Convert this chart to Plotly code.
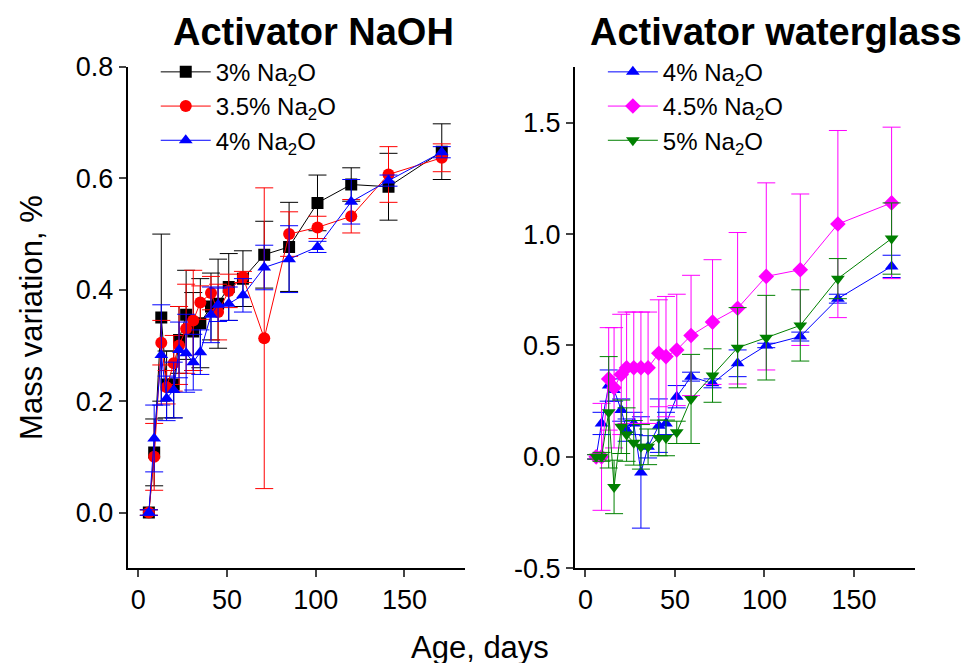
import plotly.graph_objects as go
from plotly.subplots import make_subplots

days = [6, 9, 13, 16, 20, 23, 27, 31, 35, 41, 45, 51, 59, 71, 85, 101, 120, 141, 171]

# NaOH activator
naoh_3 = [0, 0.108, 0.35, 0.23, 0.23, 0.31, 0.355, 0.325, 0.34, 0.37, 0.375, 0.405, 0.42, 0.463, 0.477, 0.556, 0.589, 0.585, 0.648]
naoh_3_err = [0.005, 0.06, 0.15, 0.06, 0.06, 0.06, 0.08, 0.07, 0.08, 0.06, 0.08, 0.06, 0.05, 0.06, 0.08, 0.05, 0.03, 0.06, 0.05]
naoh_35 = [0, 0.10, 0.305, 0.225, 0.268, 0.30, 0.33, 0.345, 0.377, 0.394, 0.36, 0.398, 0.423, 0.313, 0.50, 0.512, 0.532, 0.607, 0.637]
naoh_35_err = [0.005, 0.06, 0.04, 0.03, 0.05, 0.07, 0.08, 0.09, 0.03, 0.03, 0.05, 0.03, 0.01, 0.27, 0.04, 0.02, 0.03, 0.05, 0.025]
naoh_4 = [0, 0.133, 0.283, 0.205, 0.22, 0.292, 0.286, 0.27, 0.288, 0.355, 0.373, 0.375, 0.39, 0.44, 0.455, 0.477, 0.558, 0.596, 0.647]
naoh_4_err = [0.005, 0.06, 0.09, 0.04, 0.05, 0.05, 0.07, 0.05, 0.04, 0.05, 0.03, 0.03, 0.03, 0.04, 0.06, 0.01, 0.04, 0.01, 0.01]

# waterglass activator
wg_4 = [0, 0.15, 0.32, 0.30, 0.21, 0.12, 0.15, -0.07, 0.045, 0.14, 0.15, 0.27, 0.36, 0.33, 0.42, 0.50, 0.54, 0.71, 0.855]
wg_4_err = [0.01, 0.05, 0.07, 0.05, 0.05, 0.05, 0.05, 0.25, 0.05, 0.12, 0.05, 0.05, 0.02, 0.02, 0.06, 0.01, 0.02, 0.02, 0.05]
wg_45 = [0, 0.0, 0.35, 0.31, 0.37, 0.40, 0.40, 0.40, 0.40, 0.465, 0.45, 0.48, 0.545, 0.605, 0.667, 0.81, 0.84, 1.045, 1.14]
wg_45_err = [0.01, 0.24, 0.23, 0.27, 0.27, 0.25, 0.25, 0.25, 0.25, 0.24, 0.27, 0.25, 0.27, 0.28, 0.34, 0.42, 0.34, 0.42, 0.34]
wg_5 = [0, 0, 0.20, -0.135, 0.135, 0.10, 0.063, 0.045, 0.045, 0.085, 0.085, 0.11, 0.26, 0.365, 0.49, 0.535, 0.59, 0.80, 0.98]
wg_5_err = [0.01, 0.02, 0.25, 0.12, 0.12, 0.12, 0.1, 0.1, 0.08, 0.08, 0.08, 0.05, 0.2, 0.12, 0.18, 0.19, 0.16, 0.09, 0.16]

left_ticks = [0, 0.2, 0.4, 0.6, 0.8]
right_ticks = [-0.5, 0, 0.5, 1.0, 1.5]

fig = make_subplots(rows=1, cols=2)

def add(x, y, err, name, color, symbol, col, legend):
    fig.add_trace(go.Scatter(
        x=x, y=y, name=name, mode="lines+markers",
        line=dict(color=color, width=1),
        marker=dict(color=color, symbol=symbol, size=12),
        error_y=dict(type="data", array=err, color=color, thickness=1, width=9),
        legend=legend), row=1, col=col)

add(days, naoh_3, naoh_3_err, "3% Na<sub>2</sub>O", "black", "square", 1, "legend")
add(days, naoh_35, naoh_35_err, "3.5% Na<sub>2</sub>O", "red", "circle", 1, "legend")
add(days, naoh_4, naoh_4_err, "4% Na<sub>2</sub>O", "blue", "triangle-up", 1, "legend")
add(days, wg_4, wg_4_err, "4% Na<sub>2</sub>O", "blue", "triangle-up", 2, "legend2")
add(days, wg_45, wg_45_err, "4.5% Na<sub>2</sub>O", "magenta", "diamond", 2, "legend2")
add(days, wg_5, wg_5_err, "5% Na<sub>2</sub>O", "green", "triangle-down", 2, "legend2")

axis = dict(showline=True, linecolor="black", linewidth=1.5, ticks="outside",
            ticklen=7, tickwidth=1.5, showgrid=False, zeroline=False, automargin=False,
            tickfont=dict(size=27, color="black"))
fig.update_xaxes(axis, range=[-6, 184], dtick=50)
fig.update_xaxes(domain=[0.123, 0.470], row=1, col=1)
fig.update_xaxes(domain=[0.583, 0.933], row=1, col=2)
fig.update_yaxes(axis, domain=[0.155, 0.911])
fig.update_yaxes(range=[-0.1, 0.8], tickvals=left_ticks, ticktext=[f"{v:.1f}" for v in left_ticks],
                 row=1, col=1,
                 title=dict(text="Mass variation, %", font=dict(size=31, color="black"), standoff=24))
fig.update_yaxes(range=[-0.5, 1.75], tickvals=right_ticks, ticktext=[f"{v:.1f}" for v in right_ticks],
                 row=1, col=2)

legend_style = dict(font=dict(size=24, color="black"), bgcolor="rgba(0,0,0,0)",
                    xanchor="left", yanchor="top", tracegroupgap=0, itemwidth=50)
fig.update_layout(
    width=972, height=663, margin=dict(l=0, r=0, t=0, b=0, autoexpand=False),
    plot_bgcolor="white", paper_bgcolor="white",
    font=dict(family="Liberation Sans, Arial", color="black"),
    showlegend=True,
    legend=dict(legend_style, x=0.152, y=0.937),
    legend2=dict(legend_style, x=0.612, y=0.937),
    annotations=[
        dict(text="<b>Activator NaOH</b>", x=0.314, y=0.964, xref="paper", yref="paper",
             xanchor="center", yanchor="middle", showarrow=False, font=dict(size=38)),
        dict(text="<b>Activator waterglass</b>", x=0.79, y=0.964, xref="paper", yref="paper",
             xanchor="center", yanchor="middle", showarrow=False, font=dict(size=38)),
        dict(text="Age, days", x=0.486, y=0.035, xref="paper", yref="paper",
             xanchor="center", yanchor="middle", showarrow=False, font=dict(size=31)),
    ],
)

fig.write_html("out.html")
